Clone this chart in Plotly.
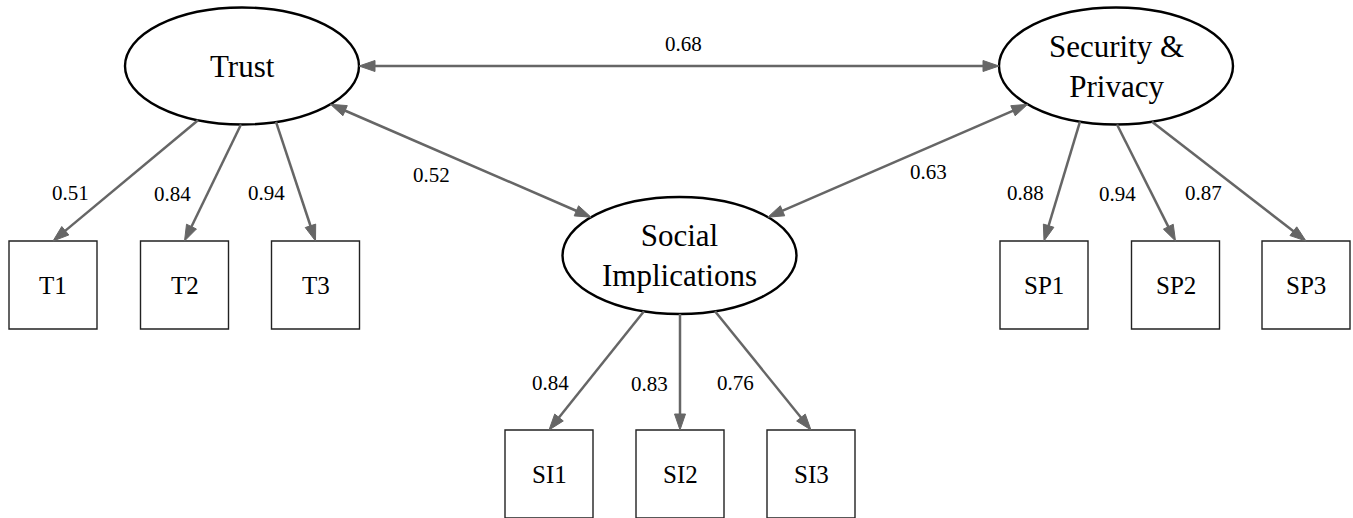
import numpy as np
import plotly.graph_objects as go

# ---------------- data ----------------
LATENTS = ["Trust", "Security &<br>Privacy", "Social<br>Implications"]
INDICATORS = [["T1", "T2", "T3"], ["SP1", "SP2", "SP3"], ["SI1", "SI2", "SI3"]]
LOADINGS = [[0.51, 0.84, 0.94], [0.88, 0.94, 0.87], [0.84, 0.83, 0.76]]
CORR_PAIRS = [(0, 1), (0, 2), (1, 2)]
CORR_VALUES = [0.68, 0.52, 0.63]

# ---------------- layout (pixel-space geometry) ----------------
W, H = 1353, 518
LATENT_CENTERS = [(242, 66), (1116, 66), (679.5, 255.5)]
RX, RY = 117, 58.5
INDICATOR_X = [[53, 184.5, 315.5], [1044, 1175.5, 1306], [549, 680, 811]]
INDICATOR_TOP = [241, 241, 430]
BOX = 88
PORTS = [[-44, -1, 34], [-36, 1, 36], [-35.5, 0.5, 35.5]]
CORR_LABEL_OFFSETS = [(4, -22), (-29, 14), (31, 11)]

EDGE_COLOR = "#666666"
EDGE_W = 2.5
HEAD_L, HEAD_HW = 16, 5.5
FONT = "Liberation Serif, Times New Roman, serif"

fig = go.Figure()


def clip_ellipse(c, p):
    dx, dy = p[0] - c[0], p[1] - c[1]
    t = 1.0 / np.sqrt((dx / RX) ** 2 + (dy / RY) ** 2)
    return (c[0] + dx * t, c[1] + dy * t)


def head(tip, frm):
    ux, uy = tip[0] - frm[0], tip[1] - frm[1]
    n = np.hypot(ux, uy)
    ux, uy = ux / n, uy / n
    bx, by = tip[0] - ux * HEAD_L, tip[1] - uy * HEAD_L
    px, py = -uy, ux
    xs = [tip[0], bx + px * HEAD_HW, bx - px * HEAD_HW, tip[0]]
    ys = [tip[1], by + py * HEAD_HW, by - py * HEAD_HW, tip[1]]
    fig.add_trace(go.Scatter(x=xs, y=ys, mode="lines", fill="toself",
                             fillcolor=EDGE_COLOR,
                             line=dict(color=EDGE_COLOR, width=1),
                             hoverinfo="skip", showlegend=False))
    return (bx + ux * 1, by + uy * 1)


def arrow(tail, tip, both=False):
    end = head(tip, tail)
    start = head(tail, tip) if both else tail
    fig.add_trace(go.Scatter(x=[start[0], end[0]], y=[start[1], end[1]],
                             mode="lines",
                             line=dict(color=EDGE_COLOR, width=EDGE_W),
                             hoverinfo="skip", showlegend=False))


annotations = []
shapes = []

# latent ellipses
for name, (cx, cy) in zip(LATENTS, LATENT_CENTERS):
    shapes.append(dict(type="circle", xref="x", yref="y",
                       x0=cx - RX, x1=cx + RX, y0=cy - RY, y1=cy + RY,
                       line=dict(color="black", width=2.4),
                       fillcolor="white", layer="below"))
    annotations.append(dict(x=cx, y=cy, text=name, showarrow=False,
                            font=dict(family=FONT, size=31, color="black"),
                            xanchor="center", yanchor="middle"))

# indicators and loadings
for li, (cx, cy) in enumerate(LATENT_CENTERS):
    top = INDICATOR_TOP[li]
    for k, (lab, val) in enumerate(zip(INDICATORS[li], LOADINGS[li])):
        bx = INDICATOR_X[li][k]
        shapes.append(dict(type="rect", xref="x", yref="y",
                           x0=bx - BOX / 2, x1=bx + BOX / 2,
                           y0=top, y1=top + BOX,
                           line=dict(color="#222222", width=1.4),
                           fillcolor="white", layer="below"))
        annotations.append(dict(x=bx, y=top + BOX / 2, text=lab,
                                showarrow=False,
                                font=dict(family=FONT, size=25, color="black"),
                                xanchor="center", yanchor="middle"))
        port = PORTS[li][k]
        px = cx + port
        py = cy + RY * np.sqrt(1 - (port / RX) ** 2)
        arrow((px, py), (bx, top))
        # label
        f = 0.6
        lx = px + (bx - px) * f
        ly = py + (top - py) * f
        slope = abs((bx - px) / (top - py))
        gap = 10 + 8 * slope
        annotations.append(dict(x=lx - gap, y=ly, text=f"{val:.2f}",
                                showarrow=False,
                                font=dict(family=FONT, size=21, color="black"),
                                xanchor="right", yanchor="middle"))

# correlations
for (a, b), val, (ox, oy) in zip(CORR_PAIRS, CORR_VALUES, CORR_LABEL_OFFSETS):
    ca, cb = LATENT_CENTERS[a], LATENT_CENTERS[b]
    pa = clip_ellipse(ca, cb)
    pb = clip_ellipse(cb, ca)
    arrow(pa, pb, both=True)
    mx, my = (pa[0] + pb[0]) / 2, (pa[1] + pb[1]) / 2
    annotations.append(dict(x=mx + ox, y=my + oy, text=f"{val:.2f}",
                            showarrow=False,
                            font=dict(family=FONT, size=21, color="black"),
                            xanchor="center", yanchor="middle"))

fig.update_layout(
    width=W, height=H,
    margin=dict(l=0, r=0, t=0, b=0),
    paper_bgcolor="white", plot_bgcolor="white",
    xaxis=dict(range=[0, W], visible=False, fixedrange=True),
    yaxis=dict(range=[H, 0], visible=False, fixedrange=True),
    shapes=shapes, annotations=annotations,
    showlegend=False, hovermode=False,
)

fig.write_html(
    "out.html",
    post_script="document.body.style.margin='0';document.body.style.overflow='hidden';",
    config={"displayModeBar": False},
)
